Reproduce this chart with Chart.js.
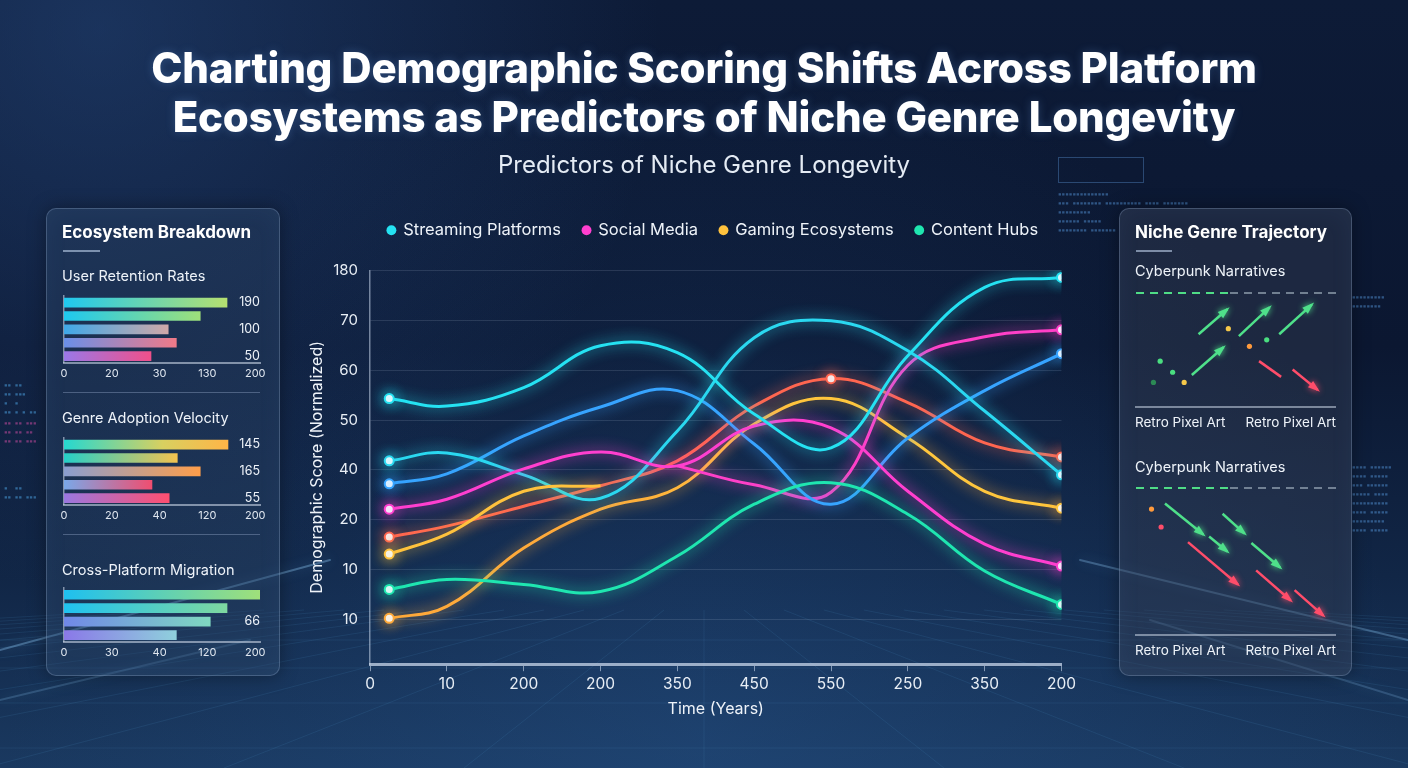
<!DOCTYPE html>
<html lang="en">
<head>
<meta charset="UTF-8">
<title>Demographic Scoring Shifts</title>
<script src="https://cdn.jsdelivr.net/npm/chart.js"></script>
<style>
    body {
        margin: 0;
        width: 1408px;
        height: 768px;
        overflow: hidden;
        position: relative;
        font-family: Inter, "Noto Sans", sans-serif;
        color: #f2f6fb;
        background: #0c1a33;
    }
    .abs { position: absolute; }
    #bg { left: 0; top: 0; }
    .title {
        left: 0; top: 43px; width: 1408px;
        text-align: center;
        font-size: 42px; line-height: 49px;
        font-weight: 800; letter-spacing: -0.2px;
        color: #ffffff;
        text-shadow: 0 0 10px rgba(120,180,255,0.25);
    }
    .subtitle {
        left: 0; top: 151px; width: 1408px;
        text-align: center;
        font-size: 24px; line-height: 28px; font-weight: 400;
        color: #e4ebf4;
    }
    .panel {
        border-radius: 10px;
        border: 1px solid rgba(170,195,225,0.28);
        box-shadow: 0 0 18px rgba(0,0,0,0.35), inset 0 0 24px rgba(120,160,210,0.06);
    }
    .panel.left { left: 46px; top: 208px; width: 232px; height: 466px; background: rgba(45,70,105,0.38); }
    .panel.right { left: 1119px; top: 208px; width: 231px; height: 466px; background: rgba(55,65,85,0.42); }
    .ph { font-size: 17px; line-height: 20px; font-weight: 700; color: #fff; }
    .ps { font-size: 14.5px; line-height: 18px; font-weight: 400; color: #eef3f9; }
    .pl { font-size: 13.5px; line-height: 16px; color: #eef3f9; }
    .uline { height: 2px; background: rgba(190,210,235,0.6); }
    .sep { height: 1px; background: rgba(170,190,220,0.35); }
    .base { height: 2px; background: rgba(200,212,228,0.55); }
    .dash-green { height: 2px; background: repeating-linear-gradient(90deg, #4fdc86 0 8px, transparent 8px 14px); }
    .dash-gray { height: 2px; background: repeating-linear-gradient(90deg, rgba(150,165,180,0.7) 0 8px, transparent 8px 14px); }
    .code { font-family: "DejaVu Sans Mono", monospace; font-size: 6px; line-height: 9px; color: rgba(90,160,230,0.45); white-space: pre; }
</style>
</head>
<body>
<canvas id="bg" class="abs" width="1408" height="768"></canvas>

<div class="abs title">Charting Demographic Scoring Shifts Across Platform<br>Ecosystems as Predictors of Niche Genre Longevity</div>
<div class="abs subtitle">Predictors of Niche Genre Longevity</div>

<!-- decorative bits -->
<div class="abs" style="left:1058px;top:157px;width:84px;height:24px;border:1px solid rgba(80,130,190,0.45);"></div>
<div class="abs code" style="left:1058px;top:189px;">▪▪▪▪▪▪▪▪▪▪▪▪▪▪
▪▪▪ ▪▪▪▪▪▪▪▪ ▪▪▪▪▪▪▪▪▪▪ ▪▪▪▪ ▪▪▪▪▪▪▪
▪▪▪▪▪▪▪▪▪
▪▪▪▪▪▪ ▪▪▪▪▪
▪▪▪▪▪▪▪▪ ▪▪▪▪▪▪▪</div>
<div class="abs code" style="left:4px;top:380px;color:rgba(80,170,235,0.5);">▪▪ ▪▪
▪▪ ▪▪▪
▪  ▪
▪▪ ▪ ▪ ▪▪</div>
<div class="abs code" style="left:4px;top:418px;color:rgba(220,80,170,0.5);">▪▪ ▪▪ ▪▪▪
▪▪ ▪▪ ▪▪
▪▪ ▪▪ ▪▪▪</div>
<div class="abs code" style="left:4px;top:483px;color:rgba(80,170,235,0.5);">▪  ▪▪
▪▪ ▪▪ ▪▪▪</div>
<div class="abs code" style="left:1352px;top:292px;">▪▪▪▪▪▪▪▪▪
▪▪▪▪▪▪▪▪</div>
<div class="abs code" style="left:1352px;top:462px;">▪▪▪▪ ▪▪▪▪▪▪
▪▪▪▪ ▪▪▪▪▪
▪▪▪ ▪▪▪▪▪▪
▪▪▪▪▪ ▪▪▪▪
▪▪▪▪▪▪▪▪▪▪
▪▪▪▪ ▪▪▪▪▪
▪▪▪▪▪▪▪▪▪
▪▪▪▪ ▪▪▪▪▪</div>

<!-- left panel -->
<div class="abs panel left"></div>
<div class="abs ph" style="left:62px;top:222px;">Ecosystem Breakdown</div>
<div class="abs uline" style="left:63px;top:250px;width:37px;"></div>
<div class="abs ps" style="left:62px;top:267px;">User Retention Rates</div>
<canvas id="retentionChart" class="abs" width="214" height="94" style="left:56px;top:290px;"></canvas>
<div class="abs sep" style="left:63px;top:392px;width:197px;"></div>
<div class="abs ps" style="left:62px;top:409px;">Genre Adoption Velocity</div>
<canvas id="adoptionChart" class="abs" width="214" height="94" style="left:56px;top:432px;"></canvas>
<div class="abs sep" style="left:63px;top:534px;width:197px;"></div>
<div class="abs ps" style="left:62px;top:561px;">Cross-Platform Migration</div>
<canvas id="migrationChart" class="abs" width="214" height="81" style="left:56px;top:582px;"></canvas>

<!-- right panel -->
<div class="abs panel right"></div>
<div class="abs ph" style="left:1135px;top:222px;">Niche Genre Trajectory</div>
<div class="abs uline" style="left:1136px;top:250px;width:36px;"></div>
<div class="abs ps" style="left:1135px;top:262px;">Cyberpunk Narratives</div>
<div class="abs dash-green" style="left:1136px;top:292px;width:92px;"></div>
<div class="abs dash-gray" style="left:1230px;top:292px;width:106px;"></div>
<canvas id="trajUp" class="abs" width="200" height="110" style="left:1136px;top:295px;"></canvas>
<div class="abs base" style="left:1135px;top:406px;width:201px;"></div>
<div class="abs pl" style="left:1135px;top:414px;">Retro Pixel Art</div>
<div class="abs pl" style="left:1236px;top:414px;width:100px;text-align:right;">Retro Pixel Art</div>
<div class="abs ps" style="left:1135px;top:458px;">Cyberpunk Narratives</div>
<div class="abs dash-green" style="left:1136px;top:487px;width:92px;"></div>
<div class="abs dash-gray" style="left:1230px;top:487px;width:106px;"></div>
<canvas id="trajDown" class="abs" width="200" height="140" style="left:1136px;top:490px;"></canvas>
<div class="abs base" style="left:1135px;top:634px;width:201px;"></div>
<div class="abs pl" style="left:1135px;top:642px;">Retro Pixel Art</div>
<div class="abs pl" style="left:1236px;top:642px;width:100px;text-align:right;">Retro Pixel Art</div>

<!-- main chart -->
<canvas id="mainChart" class="abs" width="790" height="523" style="left:290px;top:200px;"></canvas>

<script>
    // ---------- main chart data ----------
    const timeLabels = ['0', '10', '200', '200', '350', '450', '550', '250', '350', '200'];
    const scoreLabels = ['10', '10', '20', '40', '50', '60', '70', '180']; // ticks at 10, 20 ... 80
    const samplePoints = [0.25, 1, 2, 3, 4, 5, 6, 7, 8, 9];

    const streamingMain = [54.3, 52.8, 56.5, 64.9, 63.5, 51.2, 44.4, 62.9, 76.6, 78.6];
    const streamingAlt = [41.8, 43.4, 39.0, 34.3, 47.8, 66.5, 69.9, 63.9, 51.8, 39.0];
    const streamingBlue = [37.2, 39.2, 46.8, 52.6, 55.9, 45.2, 33.1, 46.4, 55.9, 63.3];
    const socialMain = [32.1, 34.1, 40.2, 43.6, 40.8, 48.8, 48.4, 35.7, 25.1, 20.7];
    const socialBranch = [null, null, null, null, 40.8, 37.0, 35.5, 61.0, 66.7, 68.1];
    const gamingRed = [26.5, 28.7, 32.7, 36.8, 41.8, 52.8, 58.3, 53.5, 45.4, 42.6];
    const gamingYellow = [23.1, 27.1, 35.7, 36.8, null, null, null, null, null, null];
    const gamingOrange = [10.2, 12.6, 24.3, 32.1, 36.4, 49.2, 54.3, 46.4, 35.7, 32.3];
    const contentHubs = [16.0, 18.0, 17.0, 15.6, 22.7, 33.1, 37.4, 31.1, 19.7, 13.0];

    // ---------- side panel data ----------
    const rowNames5 = ['Streaming', 'Social', 'Gaming', 'Content', 'Other'];
    const rowNames4 = ['Streaming', 'Social', 'Gaming', 'Content'];
    const retentionTicks = ['0', '20', '30', '130', '200'];
    const retentionValues = [3.41, 2.85, 2.18, 2.35, 1.82];
    const retentionTags = ['190', '', '100', '', '50'];
    const adoptionTicks = ['0', '20', '40', '120', '200'];
    const adoptionValues = [3.43, 2.37, 2.85, 1.84, 2.20];
    const adoptionTags = ['145', '', '165', '', '55'];
    const migrationTicks = ['0', '30', '40', '120', '200'];
    const migrationValues = [4.1, 3.41, 3.06, 2.35];
    const migrationTags = ['', '', '66', ''];

    // trajectory segments as [x1, y1, x2, y2]
    const risingUp = [[30.5, 36, 45.5, 49.5], [51.5, 35, 67.5, 50.5], [72.5, 36, 89.5, 52], [27, 14, 43.5, 29]];
    const fallingUp = [[79.5, 17, 92.5, 6]];
    const fallingUpTail = [[62, 21.5, 73.5, 13]];
    const dotsUp = [[10.5, 21.5], [17, 15.5], [7, 10], [23, 10], [46, 39], [57, 29.5], [66, 33]];
    const greenDown = [[13, 65, 33, 48.5], [36, 47.5, 45.5, 39.5], [43, 59.5, 54.5, 49], [58, 44, 73, 31]];
    const redDown = [[25, 44.5, 51, 22], [60.5, 29.5, 78.5, 13.5], [80.5, 19, 95.5, 5.5]];
    const dotsDown = [[6, 62], [11, 52.5]];

    const dotColorsUp = ['#4ade80', '#4ade80', '#2c8a55', '#f5c84a', '#f5c84a', '#ff9a3c', '#4ade80'];
    const dotColorsDown = ['#ff9a3c', '#ff4d6a'];

    Chart.defaults.font.family = 'Inter, "Noto Sans", sans-serif';
    Chart.defaults.color = '#e6edf5';

    // ---------- background ----------
    function paintBackground() {
        const g = document.getElementById('bg').getContext('2d');
        let lin = g.createLinearGradient(0, 0, 0, 768);
        lin.addColorStop(0, '#0d1b37');
        lin.addColorStop(0.45, '#0b1731');
        lin.addColorStop(0.75, '#112646');
        lin.addColorStop(1, '#1a3960');
        g.fillStyle = lin;
        g.fillRect(0, 0, 1408, 768);

        let rad = g.createRadialGradient(100, 30, 0, 100, 30, 560);
        rad.addColorStop(0, 'rgba(45,85,145,0.42)');
        rad.addColorStop(1, 'rgba(45,85,145,0)');
        g.fillStyle = rad;
        g.fillRect(0, 0, 1408, 768);

        rad = g.createRadialGradient(704, 740, 0, 704, 740, 700);
        rad.addColorStop(0, 'rgba(40,90,150,0.32)');
        rad.addColorStop(1, 'rgba(40,90,150,0)');
        g.fillStyle = rad;
        g.fillRect(0, 0, 1408, 768);

        // perspective floor
        g.strokeStyle = 'rgba(90,170,230,0.11)';
        g.lineWidth = 1;
        for (let i = -14; i <= 14; i++) {
            g.beginPath();
            g.moveTo(704 + i * 40, 610);
            g.lineTo(704 + i * 240, 768);
            g.stroke();
        }
        [640, 668, 703, 748].forEach(y => {
            g.beginPath();
            g.moveTo(0, y);
            g.lineTo(1408, y);
            g.stroke();
        });

        // light streaks
        g.lineCap = 'round';
        [[0, 650, 330, 560, 0.35], [0, 700, 250, 640, 0.2], [1408, 640, 1080, 560, 0.3], [1408, 700, 1150, 620, 0.2]].forEach(s => {
            g.strokeStyle = 'rgba(150,210,255,' + s[4] + ')';
            g.lineWidth = 2;
            g.shadowColor = 'rgba(120,200,255,0.8)';
            g.shadowBlur = 12;
            g.beginPath();
            g.moveTo(s[0], s[1]);
            g.lineTo(s[2], s[3]);
            g.stroke();
        });
        g.shadowBlur = 0;
    }
    paintBackground();

    // ---------- plugins ----------
    const glow = {
        id: 'glow',
        beforeDatasetDraw(chart, args) {
            const ctx = chart.ctx;
            const ds = chart.data.datasets[args.index];
            ctx.save();
            ctx.shadowColor = ds.glowColor || ds.borderColor;
            ctx.shadowBlur = 14;
        },
        afterDatasetDraw(chart) {
            chart.ctx.restore();
        }
    };

    const legendShift = {
        id: 'legendShift',
        afterLayout(chart) {
            chart.legend.left += 24;
            chart.legend.right += 24;
        },
        beforeInit(chart) {
            const fit = chart.legend.fit;
            chart.legend.fit = function () {
                fit.bind(chart.legend)();
                this.height += 22;
            };
        }
    };

    const barTags = {
        id: 'barTags',
        afterDatasetsDraw(chart, args, opts) {
            const tags = opts.tags || [];
            const ctx = chart.ctx;
            const meta = chart.getDatasetMeta(0);
            ctx.save();
            ctx.font = '12.5px Inter, sans-serif';
            ctx.fillStyle = '#eef3f9';
            ctx.textAlign = 'right';
            ctx.textBaseline = 'middle';
            meta.data.forEach((bar, i) => {
                if (tags[i]) ctx.fillText(tags[i], chart.chartArea.right, bar.y);
            });
            ctx.restore();
        }
    };

    const arrowHeads = {
        id: 'arrowHeads',
        afterDatasetsDraw(chart) {
            const ctx = chart.ctx;
            chart.data.datasets.forEach((ds, i) => {
                if (!ds.arrow) return;
                const pts = chart.getDatasetMeta(i).data;
                const a = pts[0], b = pts[1];
                const ang = Math.atan2(b.y - a.y, b.x - a.x);
                const len = 10;
                ctx.save();
                ctx.fillStyle = ds.borderColor;
                ctx.shadowColor = ds.borderColor;
                ctx.shadowBlur = 6;
                ctx.beginPath();
                ctx.moveTo(b.x + Math.cos(ang) * 3, b.y + Math.sin(ang) * 3);
                ctx.lineTo(b.x - len * Math.cos(ang - 0.42), b.y - len * Math.sin(ang - 0.42));
                ctx.lineTo(b.x - len * Math.cos(ang + 0.42), b.y - len * Math.sin(ang + 0.42));
                ctx.closePath();
                ctx.fill();
                ctx.restore();
            });
        }
    };

    // horizontal colour ramp for a line (orange on the left, yellow on the right)
    function ramp(from, to, fallback) {
        return ctx => {
            const area = ctx.chart.chartArea;
            if (!area) return fallback;
            const g = ctx.chart.ctx.createLinearGradient(area.left, 0, area.right, 0);
            g.addColorStop(0, from);
            g.addColorStop(0.35, from);
            g.addColorStop(0.55, to);
            g.addColorStop(1, to);
            return g;
        };
    }

    // ---------- main chart ----------
    const series = [
        { label: 'Streaming Platforms', values: streamingMain, color: '#25e2f2', legend: true, markers: [0, 9] },
        { label: 'Social Media', values: socialMain, color: '#ff3fcf', legend: true, markers: [0, 9] },
        { label: 'Gaming Ecosystems', values: gamingYellow, color: '#ffc23d', legend: true, markers: [0] },
        { label: 'Content Hubs', values: contentHubs, color: '#1fe6b0', legend: true, markers: [0, 9] },
        { label: 'Streaming (alt)', values: streamingAlt, color: '#2ad8f0', markers: [0, 9] },
        { label: 'Streaming (blue)', values: streamingBlue, color: '#37a4ff', markers: [0, 9] },
        { label: 'Social (branch)', values: socialBranch, color: '#ff40c8', markers: [9] },
        { label: 'Gaming (red)', values: gamingRed, color: '#ff6650', markers: [0, 6, 9] },
        { label: 'Gaming (orange)', values: gamingOrange, color: '#ffaa3a', rampTo: '#ffc63d', markers: [0, 9] }
    ];

    new Chart(document.getElementById('mainChart'), {
        type: 'line',
        data: {
            datasets: series.map(s => ({
                label: s.label,
                data: samplePoints.map((x, i) => ({ x: x, y: s.values[i] })),
                borderColor: s.rampTo ? ramp(s.color, s.rampTo, s.color) : s.color,
                glowColor: s.color,
                backgroundColor: s.color,
                borderWidth: 3,
                tension: 0.4,
                spanGaps: false,
                pointRadius: ctx => s.markers.includes(ctx.dataIndex) ? 4.5 : 0,
                pointBackgroundColor: '#f6fbff',
                pointBorderColor: s.rampTo ? [s.color, s.color, s.color, s.color, s.color, s.rampTo, s.rampTo, s.rampTo, s.rampTo, s.rampTo] : s.color,
                pointBorderWidth: 2,
                inLegend: !!s.legend
            }))
        },
        options: {
            responsive: false,
            animation: false,
            layout: { padding: { left: 8, right: 0, top: 0, bottom: 0 } },
            plugins: {
                legend: {
                    labels: {
                        usePointStyle: true,
                        boxWidth: 7,
                        boxHeight: 7,
                        padding: 22,
                        font: { size: 16.5 },
                        color: '#eef3f9',
                        generateLabels: chart => chart.data.datasets
                            .map((ds, i) => ({
                                text: ds.label,
                                fillStyle: ds.glowColor,
                                strokeStyle: ds.glowColor,
                                lineWidth: 0,
                                pointStyle: 'circle',
                                fontColor: '#eef3f9',
                                datasetIndex: i,
                                show: ds.inLegend
                            }))
                            .filter(item => item.show)
                    }
                },
                tooltip: { enabled: false }
            },
            scales: {
                x: {
                    type: 'linear',
                    min: 0,
                    max: 9,
                    ticks: {
                        stepSize: 1,
                        autoSkip: false,
                        padding: 4,
                        font: { size: 15.5 },
                        color: '#e8eef5',
                        callback: v => timeLabels[v]
                    },
                    grid: { drawOnChartArea: false, drawTicks: true, tickLength: 7, color: 'rgba(200,215,235,0.6)' },
                    border: { color: 'rgba(200,215,235,0.75)', width: 3 },
                    title: { display: true, text: 'Time (Years)', font: { size: 16 }, color: '#eef3f9', padding: { top: 2 } }
                },
                y: {
                    type: 'linear',
                    min: 1,
                    max: 80,
                    afterBuildTicks: axis => {
                        axis.ticks = scoreLabels.map((_, i) => ({ value: (i + 1) * 10 }));
                    },
                    ticks: {
                        padding: 12,
                        font: { size: 15 },
                        color: '#e8eef5',
                        callback: v => scoreLabels[v / 10 - 1]
                    },
                    grid: { color: 'rgba(200,215,235,0.14)', drawTicks: false },
                    border: { color: 'rgba(200,215,235,0.55)', width: 1.5 },
                    title: { display: true, text: 'Demographic Score (Normalized)', font: { size: 16 }, color: '#eef3f9', padding: { top: 10, bottom: -6 } }
                }
            }
        },
        plugins: [glow, legendShift]
    });

    // ---------- mini bar charts ----------
    function gradientFill(pairs) {
        return ctx => {
            const chart = ctx.chart;
            const area = chart.chartArea;
            const pair = pairs[ctx.dataIndex];
            if (!area) return pair[0];
            const x1 = chart.scales.x.getPixelForValue(ctx.raw);
            const grad = chart.ctx.createLinearGradient(area.left, 0, Math.max(x1, area.left + 1), 0);
            grad.addColorStop(0, pair[0]);
            if (pair[2]) grad.addColorStop(0.6, pair[2]);
            grad.addColorStop(1, pair[1]);
            return grad;
        };
    }

    function miniBars(id, rows, values, ticks, tags, colors) {
        new Chart(document.getElementById(id), {
            type: 'bar',
            data: {
                labels: rows,
                datasets: [{ data: values, backgroundColor: gradientFill(colors), barThickness: 9, borderWidth: 0 }]
            },
            options: {
                indexAxis: 'y',
                responsive: false,
                animation: false,
                layout: { padding: { left: 8, right: 10, top: 6, bottom: 0 } },
                plugins: { legend: { display: false }, tooltip: { enabled: false }, barTags: { tags: tags } },
                scales: {
                    x: {
                        type: 'linear',
                        min: 0,
                        max: 4.1,
                        afterBuildTicks: axis => {
                            axis.ticks = ticks.map((_, i) => ({ value: i }));
                        },
                        ticks: { font: { size: 11 }, color: '#dfe6ef', padding: 4, callback: v => ticks[v] },
                        grid: { display: false, drawTicks: false, tickLength: 0 },
                        border: { color: 'rgba(200,212,228,0.6)', width: 2 }
                    },
                    y: {
                        ticks: { display: false },
                        grid: { display: false, drawTicks: false, tickLength: 0 },
                        border: { color: 'rgba(200,212,228,0.6)', width: 1.5 }
                    }
                }
            },
            plugins: [barTags]
        });
    }

    miniBars('retentionChart', rowNames5, retentionValues, retentionTicks, retentionTags, [
        ['#1fc8f0', '#b5e070'], ['#1ec8f0', '#9ee07a'], ['#3fa8e8', '#d0a8a8'], ['#6a90e8', '#f07a88'], ['#9a78e8', '#f0508a']
    ]);
    miniBars('adoptionChart', rowNames5, adoptionValues, adoptionTicks, adoptionTags, [
        ['#25d8d0', '#ffb547', '#d8d060'], ['#25cfc8', '#f3c24f'], ['#8a9ed0', '#ff9e4a'], ['#7aa8e8', '#f04e70'], ['#9a78e0', '#ff4f70']
    ]);
    miniBars('migrationChart', rowNames4, migrationValues, migrationTicks, migrationTags, [
        ['#1ec0f0', '#9fe07a'], ['#20c2f0', '#7ed8a0'], ['#7088e8', '#7fd8c0'], ['#8a78e8', '#8fd0dc']
    ]);

    // ---------- trajectory panels ----------
    function segment(seg, color, arrow) {
        return {
            data: [{ x: seg[0], y: seg[1] }, { x: seg[2], y: seg[3] }],
            showLine: true,
            borderColor: color,
            borderWidth: 2.5,
            pointRadius: 0,
            arrow: arrow
        };
    }

    function trajectory(id, yMax, parts, dots, dotColors) {
        const datasets = [];
        parts.forEach(p => p.segs.forEach(s => datasets.push(segment(s, p.color, p.arrow))));
        datasets.push({
            data: dots.map(d => ({ x: d[0], y: d[1] })),
            showLine: false,
            pointRadius: 2.6,
            pointBackgroundColor: dotColors,
            pointBorderWidth: 0,
            borderColor: 'transparent'
        });
        new Chart(document.getElementById(id), {
            type: 'scatter',
            data: { datasets: datasets },
            options: {
                responsive: false,
                animation: false,
                layout: { padding: 0 },
                plugins: { legend: { display: false }, tooltip: { enabled: false } },
                scales: {
                    x: { display: false, min: 0, max: 100 },
                    y: { display: false, min: 0, max: yMax }
                }
            },
            plugins: [arrowHeads]
        });
    }

    trajectory('trajUp', 55, [
        { segs: risingUp, color: '#4fe08a', arrow: true },
        { segs: fallingUp, color: '#ff4d6a', arrow: true },
        { segs: fallingUpTail, color: '#ff4d6a', arrow: false }
    ], dotsUp, dotColorsUp);

    trajectory('trajDown', 70, [
        { segs: greenDown, color: '#4fe08a', arrow: true },
        { segs: redDown, color: '#ff4d6a', arrow: true }
    ], dotsDown, dotColorsDown);
</script>
</body>
</html>
